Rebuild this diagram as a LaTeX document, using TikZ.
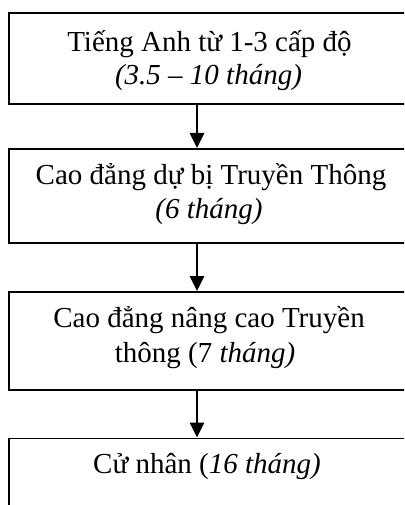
\documentclass[tikz,border=0pt]{standalone}
\usepackage{fontspec}
\setmainfont{Liberation Serif}
\usetikzlibrary{arrows.meta}
\begin{document}
\begin{tikzpicture}[x=1pt,y=-1pt,
  boxstyle/.style={draw=black,line width=1.8pt,rectangle,inner sep=0pt,anchor=north west},
  txt/.style={anchor=base,inner sep=0pt,font=\fontsize{29}{33.5}\selectfont},
  arr/.style={line width=2.6pt,-{Triangle[width=14pt,length=15pt]}}]
\useasboundingbox (0,0) rectangle (404,505);
\clip (0,0) rectangle (404,505);
\node[boxstyle,minimum width=404pt,minimum height=91pt] (b1) at (8,12.5) {};
\node[boxstyle,minimum width=404pt,minimum height=94pt] (b2) at (8,148) {};
\node[boxstyle,minimum width=404pt,minimum height=98pt] (b3) at (8,291) {};
\node[boxstyle,minimum width=404pt,minimum height=110pt] (b4) at (8,437.5) {};
\node[txt] (t1a) at (209.5,51.7) {Tiếng Anh từ 1-3 cấp độ};
\node[txt] (t1b) at (208.5,84.5) {\itshape (3.5 – 10 tháng)};
\node[txt] (t2a) at (211,184.5) {Cao đẳng dự bị Truyền Thông};
\node[txt] (t2b) at (209,218) {\itshape (6 tháng)};
\node[txt] (t3a) at (209,327.7) {Cao đẳng nâng cao Truyền};
\node[txt] (t3b) at (205,362) {thông (7 \textit{tháng)}};
\node[txt] (t4a) at (207,473) {Cử nhân (\textit{16 tháng)}};
\coordinate (ax) at (197,0);
\draw[arr] (b1.south -| ax) -- (b2.north -| ax);
\draw[arr] (b2.south -| ax) -- (b3.north -| ax);
\draw[arr] (b3.south -| ax) -- (b4.north -| ax);
\end{tikzpicture}
\end{document}
